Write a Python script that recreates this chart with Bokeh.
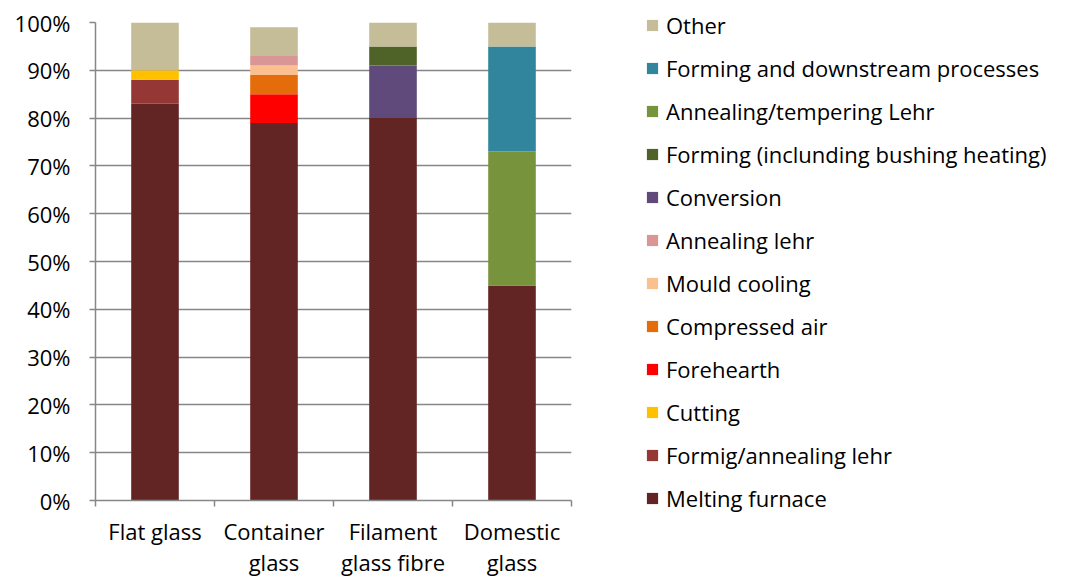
from bokeh.plotting import figure
from bokeh.models import (Range1d, FixedTicker, Legend, LegendItem, ColumnDataSource)
from bokeh.embed import file_html
from bokeh.resources import INLINE

categories = ["Flat glass", "Container glass", "Filament glass fibre", "Domestic glass"]
category_labels = ["Flat glass", "Container\nglass", "Filament\nglass fibre", "Domestic\nglass"]

series = [
    "Melting furnace", "Formig/annealing lehr", "Cutting", "Forehearth",
    "Compressed air", "Mould cooling", "Annealing lehr", "Conversion",
    "Forming (inclunding bushing heating)", "Annealing/tempering Lehr",
    "Forming and downstream processes", "Other",
]
melting_furnace = [83, 79, 80, 45]
formig_annealing_lehr = [5, 0, 0, 0]
cutting = [2, 0, 0, 0]
forehearth = [0, 6, 0, 0]
compressed_air = [0, 4, 0, 0]
mould_cooling = [0, 2, 0, 0]
annealing_lehr = [0, 2, 0, 0]
conversion = [0, 0, 11, 0]
forming_bushing = [0, 0, 4, 0]
annealing_tempering = [0, 0, 0, 28]
forming_downstream = [0, 0, 0, 22]
other = [10, 6, 5, 5]

colors = ["#632523", "#953735", "#FFC000", "#FF0000", "#E46C0A", "#FAC090",
          "#D99694", "#604A7B", "#4F6228", "#77933C", "#31859C", "#C4BD97"]

y_ticks = [0, 10, 20, 30, 40, 50, 60, 70, 80, 90, 100]

FONT = "Open Sans"
FS = "22px"
GRID = "#868686"
LW = 1.5

values = [melting_furnace, formig_annealing_lehr, cutting, forehearth, compressed_air,
          mould_cooling, annealing_lehr, conversion, forming_bushing,
          annealing_tempering, forming_downstream, other]
keys = ["s%d" % i for i in range(len(series))]
data = {"x": [i + 0.5 for i in range(len(categories))]}
for k, v in zip(keys, values):
    data[k] = v
source = ColumnDataSource(data)

p = figure(frame_width=476, height=580, output_backend="svg", toolbar_location=None,
           x_range=Range1d(0, len(categories)), y_range=Range1d(0, 100),
           min_border_left=95, min_border_right=0, min_border_top=22,
           min_border_bottom=79)
p.outline_line_color = None
p.background_fill_color = "white"
p.border_fill_color = "white"

p.ygrid.grid_line_color = GRID
p.ygrid.grid_line_width = LW
p.ygrid.ticker = FixedTicker(ticks=y_ticks)
p.xgrid.grid_line_color = None

renderers = p.vbar_stack(keys, x="x", width=0.4, color=colors, source=source,
                         line_color=None)

p.xaxis.ticker = FixedTicker(ticks=[i + 0.5 for i in range(len(categories))],
                             minor_ticks=list(range(len(categories) + 1)))
p.xaxis.major_label_overrides = {i + 0.5: lab for i, lab in enumerate(category_labels)}
p.xaxis.major_tick_out = 0
p.xaxis.major_tick_in = 0
p.xaxis.minor_tick_out = 6
p.xaxis.minor_tick_in = 0
p.xaxis.minor_tick_line_color = GRID
p.xaxis.minor_tick_line_width = LW
p.xaxis.axis_line_color = GRID
p.xaxis.axis_line_width = LW
p.xaxis.major_label_standoff = 9
p.xaxis.major_label_text_font = FONT
p.xaxis.major_label_text_font_size = FS
p.xaxis.major_label_text_color = "#000000"
p.xaxis.major_label_text_line_height = 1.05

p.yaxis.ticker = FixedTicker(ticks=y_ticks)
p.yaxis.major_label_overrides = {t: "%d%%" % t for t in y_ticks}
p.yaxis.major_tick_out = 6
p.yaxis.major_tick_in = 0
p.yaxis.minor_tick_line_color = None
p.yaxis.major_tick_line_color = GRID
p.yaxis.major_tick_line_width = LW
p.yaxis.axis_line_color = GRID
p.yaxis.axis_line_width = LW
p.yaxis.major_label_standoff = 19
p.yaxis.major_label_text_font = FONT
p.yaxis.major_label_text_font_size = FS
p.yaxis.major_label_text_color = "#000000"

items = [LegendItem(label=s, renderers=[r]) for s, r in zip(series, renderers)]
items.reverse()
legend = Legend(items=items, location=(74, -13), orientation="vertical",
                label_text_font=FONT, label_text_font_size=FS,
                label_text_color="#000000",
                glyph_width=14, glyph_height=14, label_standoff=7,
                label_height=30, spacing=13, padding=0, margin=0,
                border_line_color=None, background_fill_alpha=0)
p.add_layout(legend, "right")

open("out.html", "w").write(file_html(p, INLINE))
